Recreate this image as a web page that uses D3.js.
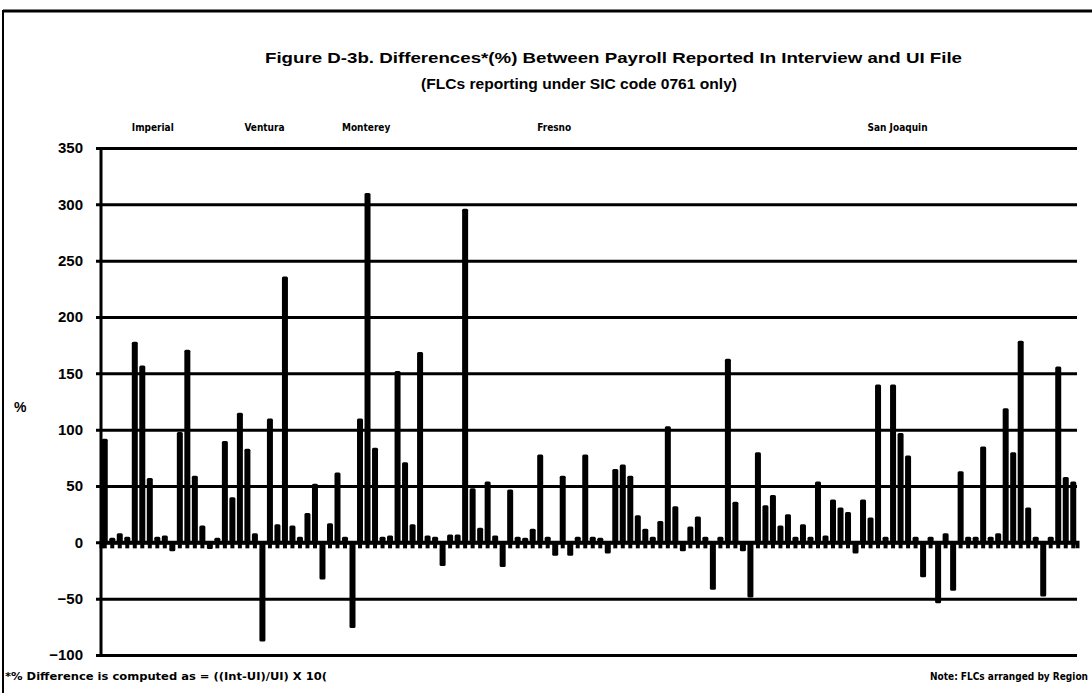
<!DOCTYPE html>
<html>
<head>
<meta charset="utf-8">
<script src="https://cdn.jsdelivr.net/npm/d3@7"></script>
<style>
  html, body { margin: 0; padding: 0; background: #fff; }
  svg { display: block; }
  text { font-family: "Liberation Sans", Arial, sans-serif; font-weight: bold; fill: #000; }
  .narrow { font-family: "Liberation Sans Narrow", "DejaVu Sans Condensed", sans-serif; }
</style>
</head>
<body>
<div id="chart"></div>
<script>
// % difference for each FLC, in the order shown (arranged by region)
const values = [
  92, 4, 8, 5, 178, 157, 57, 5, 6, -8,
  98, 171, 59, 15, -6, 4, 90, 40, 115, 83,
  8, -88, 110, 16, 236, 15, 5, 26, 52, -33,
  17, 62, 5, -76, 110, 310, 84, 5, 6, 152,
  71, 16, 169, 6, 5, -21, 7, 7, 296, 48,
  13, 54, 6, -22, 47, 5, 4, 12, 78, 5,
  -12, 59, -12, 5, 78, 5, 4, -10, 65, 69,
  59, 24, 12, 5, 19, 103, 32, -8, 14, 23,
  5, -42, 5, 163, 36, -8, -49, 80, 33, 42,
  15, 25, 5, 16, 5, 54, 6, 38, 31, 27,
  -10, 38, 22, 140, 5, 140, 97, 77, 5, -31,
  5, -54, 8, -43, 63, 5, 5, 85, 5, 8,
  119, 80, 179, 31, 5, -48, 5, 156, 58, 54
];
const categories = values.map((d, i) => i + 1);

const regions = ["Imperial", "Ventura", "Monterey", "Fresno", "San Joaquin"];
const regionStart = [4, 19, 32, 58, 102];

const yTicks = [-100, -50, 0, 50, 100, 150, 200, 250, 300, 350];

const W = 1092, H = 693;
const margin = { left: 101, right: 1077, top: 148, bottom: 655 };

const svg = d3.select("#chart").append("svg")
  .attr("width", W)
  .attr("height", H);

const x = d3.scaleBand()
  .domain(categories)
  .range([margin.left, margin.right])
  .paddingInner(0.2)
  .paddingOuter(0.1);

const y = d3.scaleLinear()
  .domain([-100, 350])
  .range([margin.bottom, margin.top]);

// frame of the scanned page
svg.append("line").attr("x1", 3).attr("x2", W).attr("y1", 11).attr("y2", 11)
  .attr("stroke", "#000").attr("stroke-width", 3);
svg.append("line").attr("x1", 3).attr("x2", 3).attr("y1", 10).attr("y2", H)
  .attr("stroke", "#000").attr("stroke-width", 2);

// title
svg.append("text")
  .attr("x", 265).attr("y", 63)
  .attr("textLength", 697).attr("lengthAdjust", "spacingAndGlyphs")
  .style("font-size", "15px")
  .text("Figure D-3b.   Differences*(%) Between Payroll Reported In Interview and UI File");
svg.append("text")
  .attr("x", 421).attr("y", 89)
  .attr("textLength", 316).attr("lengthAdjust", "spacingAndGlyphs")
  .style("font-size", "15px")
  .text("(FLCs reporting under SIC code 0761 only)");

// region labels
svg.append("g").selectAll("text")
  .data(regions)
  .join("text")
  .attr("class", "narrow")
  .attr("x", (d, i) => x(categories[regionStart[i]]))
  .attr("y", 131)
  .style("font-size", "10px")
  .text(d => d);

// gridlines + y axis labels
const yAxis = svg.append("g")
  .attr("transform", `translate(${margin.left},0)`)
  .call(d3.axisLeft(y).tickValues(yTicks).tickSize(-(margin.right - margin.left)).tickPadding(18))
  .call(g => g.select(".domain").remove());
yAxis.selectAll(".tick line")
  .attr("x1", -5)
  .attr("stroke", "#000")
  .attr("stroke-width", 3);
yAxis.selectAll(".tick text")
  .style("font-size", "15px")
  .style("font-family", "'Liberation Sans', Arial, sans-serif")
  .style("font-weight", "bold");

svg.append("text")
  .attr("x", 14).attr("y", 412)
  .style("font-size", "14px")
  .text("%");

// vertical axis line
svg.append("line")
  .attr("x1", margin.left).attr("x2", margin.left)
  .attr("y1", margin.top - 1).attr("y2", margin.bottom + 1)
  .attr("stroke", "#000").attr("stroke-width", 3);

// bars
svg.append("g")
  .selectAll("rect")
  .data(values)
  .join("rect")
  .attr("x", (d, i) => x(categories[i]))
  .attr("width", x.bandwidth())
  .attr("y", d => y(Math.max(0, d)))
  .attr("height", d => Math.abs(y(d) - y(0)))
  .attr("rx", 1.5)
  .attr("fill", "#000");

// zero line with category ticks
const xAxis = svg.append("g")
  .attr("transform", `translate(0,${y(0)})`)
  .call(d3.axisBottom(x).tickSize(6).tickFormat(""));
xAxis.select(".domain").attr("stroke-width", 4);
xAxis.selectAll(".tick line").attr("stroke-width", 4);

// footnotes
svg.append("text")
  .attr("class", "narrow")
  .attr("x", 5).attr("y", 680)
  .attr("textLength", 322).attr("lengthAdjust", "spacingAndGlyphs")
  .style("font-size", "10px")
  .text("*% Difference is computed as = ((Int-UI)/UI) X 10(");
svg.append("text")
  .attr("class", "narrow")
  .attr("x", 930).attr("y", 680)
  .attr("textLength", 158).attr("lengthAdjust", "spacingAndGlyphs")
  .style("font-size", "10px")
  .text("Note: FLCs arranged by Region");
</script>
</body>
</html>
